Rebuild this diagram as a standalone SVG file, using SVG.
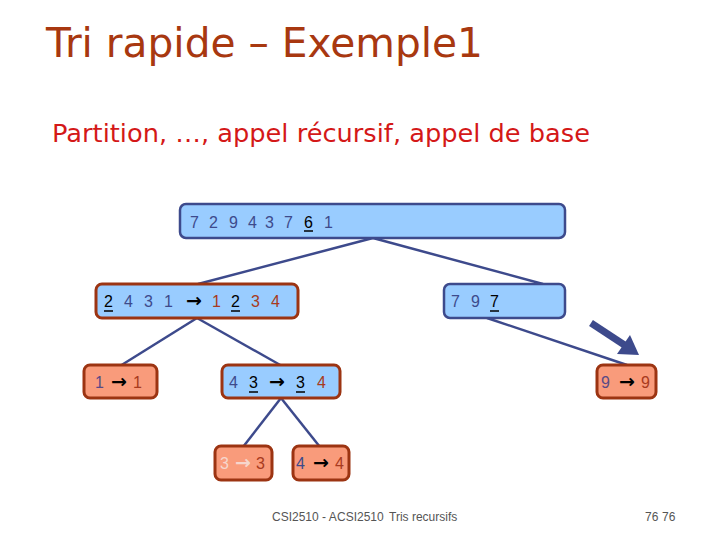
<svg xmlns="http://www.w3.org/2000/svg" width="720" height="540" viewBox="0 0 720 540">
<style>
.bg{fill:#ffffff}
.title{font-family:"DejaVu Sans",sans-serif;fill:#a83810}
.sub{font-family:"DejaVu Sans",sans-serif;fill:#d41818}
.nb{fill:#99ccff;stroke:#3d4a8c;stroke-width:2.5}
.nbr{fill:#99ccff;stroke:#9c3412;stroke-width:3}
.ns{fill:#f99b7b;stroke:#9c3412;stroke-width:3}
.t{font-family:"Liberation Sans",Arial,sans-serif;font-size:16px}
.b{fill:#3d4a8c}
.r{fill:#a83a20}
.k{fill:#000000}
.p{fill:#5a4a86}
.l{fill:#f6d6cc}
.ar{font-family:"DejaVu Sans",sans-serif;font-weight:bold;font-size:19px}
.u{stroke:#000;stroke-width:1.5}
.c{stroke:#3d4a8c;stroke-width:2.5;fill:none}
.f{font-family:"Liberation Sans",Arial,sans-serif;font-size:12px;fill:#555555}
</style>
<rect class="bg" x="0" y="0" width="720" height="540"/>
<text class="title" x="46" y="57" font-size="40" textLength="437" lengthAdjust="spacingAndGlyphs">Tri rapide – Exemple1</text>
<text class="sub" x="52" y="142" font-size="24" textLength="538" lengthAdjust="spacingAndGlyphs">Partition, …, appel récursif, appel de base</text>

<g id="connectors">
<line class="c" x1="373" y1="238" x2="198" y2="284"/>
<line class="c" x1="373" y1="238" x2="543" y2="284"/>
<line class="c" x1="197" y1="318" x2="120" y2="366"/>
<line class="c" x1="197" y1="318" x2="282" y2="366"/>
<line class="c" x1="487" y1="318" x2="627" y2="365"/>
<line class="c" x1="281" y1="398" x2="243" y2="447"/>
<line class="c" x1="281" y1="398" x2="320" y2="447"/>
<line stroke="#3d4a8c" stroke-width="7" x1="591" y1="323" x2="626" y2="346"/>
<polygon fill="#3d4a8c" points="639,355 617,354 630,335"/>
</g>

<g id="n1">
<rect class="nb" x="180" y="204" width="385" height="34" rx="6"/>
<text class="t b" y="228"><tspan x="190">7</tspan><tspan x="209">2</tspan><tspan x="229">9</tspan><tspan x="248">4</tspan><tspan x="265">3</tspan><tspan x="284">7</tspan><tspan class="k" x="304">6</tspan><tspan x="324">1</tspan></text>
<line class="u" x1="304" y1="231" x2="313" y2="231"/>
</g>

<g id="n2">
<rect class="nbr" x="96" y="284" width="202" height="34" rx="6"/>
<text class="t" y="307"><tspan class="k" x="104">2</tspan><tspan class="b" x="124">4</tspan><tspan class="b" x="144">3</tspan><tspan class="b" x="164">1</tspan><tspan class="k ar" x="186">→</tspan><tspan class="r" x="212">1</tspan><tspan class="k" x="231">2</tspan><tspan class="r" x="251">3</tspan><tspan class="r" x="271">4</tspan></text>
<line class="u" x1="104" y1="311" x2="113" y2="311"/>
<line class="u" x1="231" y1="311" x2="240" y2="311"/>
</g>

<g id="n3">
<rect class="nb" x="444" y="284" width="121" height="34" rx="6"/>
<text class="t" y="307"><tspan class="b" x="451">7</tspan><tspan class="b" x="471">9</tspan><tspan class="k" x="490">7</tspan></text>
<line class="u" x1="490" y1="311" x2="499" y2="311"/>
</g>

<g id="n4">
<rect class="ns" x="84" y="365" width="73" height="33" rx="6"/>
<text class="t" y="388"><tspan class="p" x="95">1</tspan><tspan class="k ar" x="111">→</tspan><tspan class="r" x="133">1</tspan></text>
</g>

<g id="n5">
<rect class="nbr" x="222" y="365" width="118" height="33" rx="6"/>
<text class="t" y="388"><tspan class="b" x="229">4</tspan><tspan class="k" x="249">3</tspan><tspan class="k ar" x="269">→</tspan><tspan class="k" x="296">3</tspan><tspan class="r" x="317">4</tspan></text>
<line class="u" x1="249" y1="392" x2="258" y2="392"/>
<line class="u" x1="296" y1="392" x2="305" y2="392"/>
</g>

<g id="n6">
<rect class="ns" x="597" y="365" width="59" height="33" rx="6"/>
<text class="t" y="388"><tspan class="p" x="601">9</tspan><tspan class="k ar" x="619">→</tspan><tspan class="r" x="641">9</tspan></text>
</g>

<g id="n7">
<rect class="ns" x="215" y="446" width="57" height="34" rx="6"/>
<text class="t" y="469"><tspan class="l" x="220">3</tspan><tspan class="l ar" x="235">→</tspan><tspan class="r" x="256">3</tspan></text>
</g>

<g id="n8">
<rect class="ns" x="293" y="446" width="56" height="34" rx="6"/>
<text class="t" y="469"><tspan class="b" x="296">4</tspan><tspan class="k ar" x="313">→</tspan><tspan class="r" x="335">4</tspan></text>
</g>

<text class="f" x="272" y="521">CSI2510 - A</text>
<text class="f" x="337" y="521">CSI2510</text>
<text class="f" x="389" y="521">Tris recursifs</text>
<text class="f" x="645" y="521">76</text>
<text class="f" x="662" y="521">76</text>
</svg>
